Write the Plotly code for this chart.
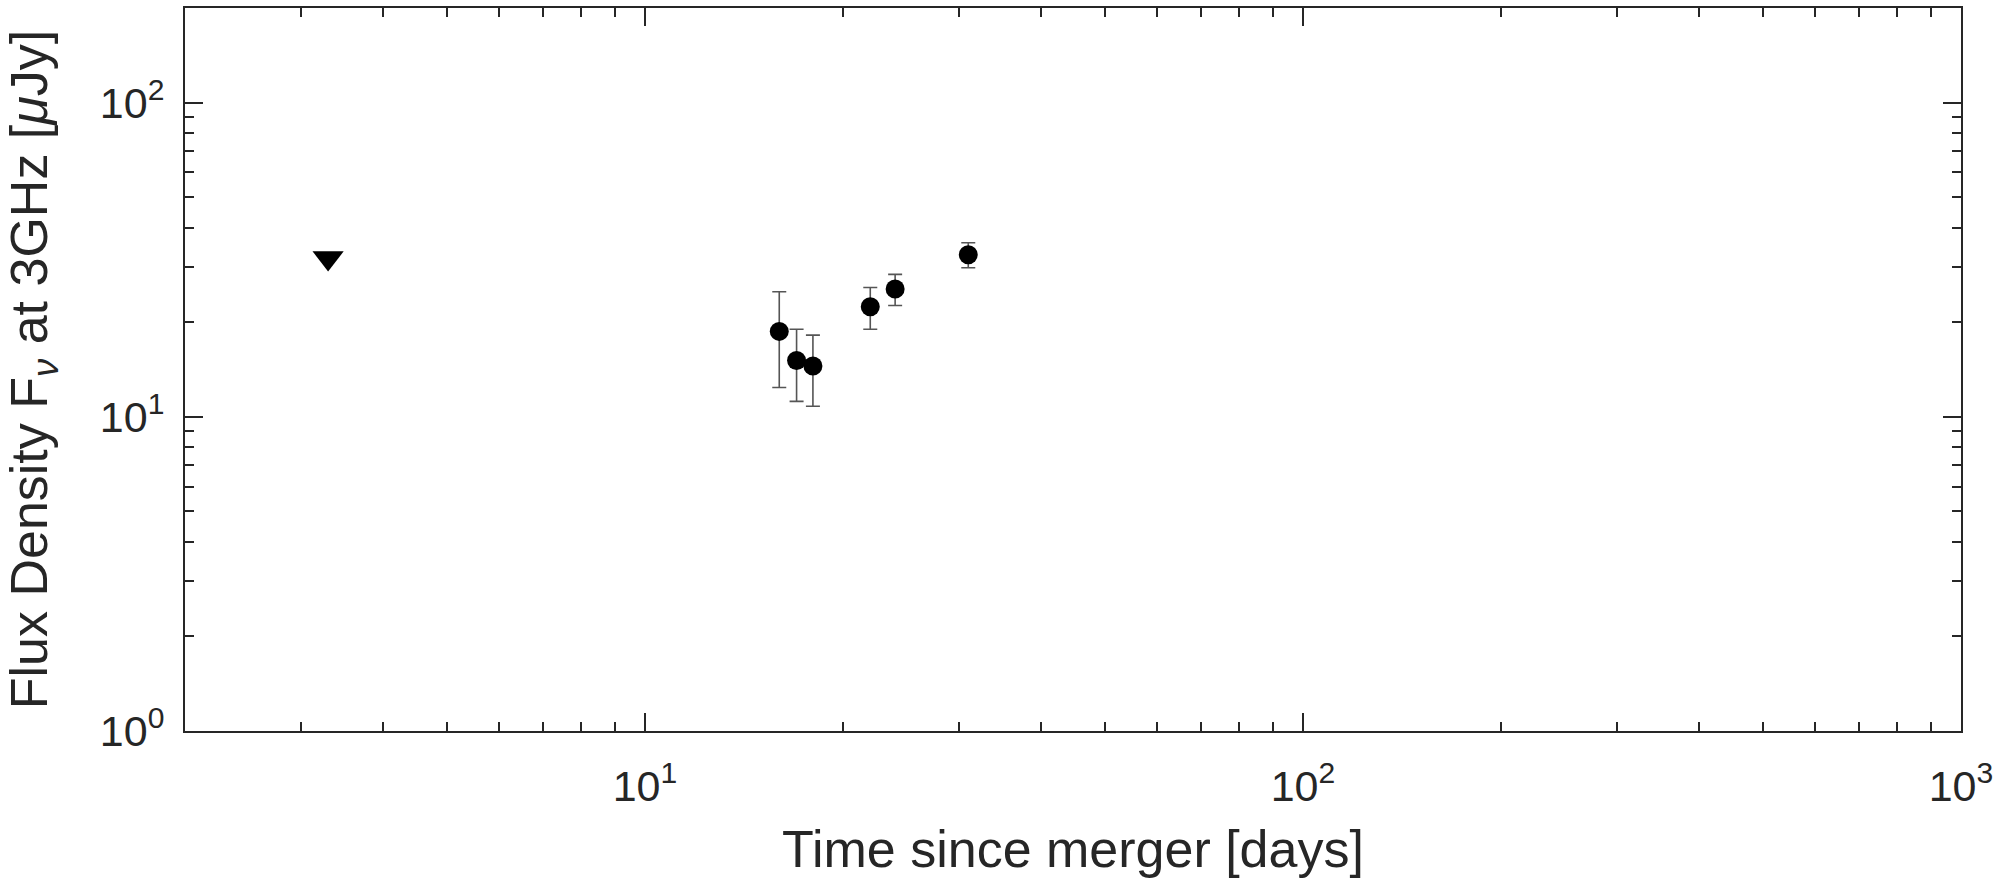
import plotly.graph_objects as go

# Detections (days since merger, flux density in microJy, 1-sigma error)
t_det = [16.0, 17.0, 18.0, 22.0, 24.0, 31.0]
f_det = [18.7, 15.1, 14.5, 22.4, 25.5, 32.8]
e_det = [6.3, 3.9, 3.7, 3.4, 2.9, 3.0]

# Upper limit
t_ul = [3.3]
f_ul = [32.0]

x_tickvals = [10, 100, 1000]
x_ticktext = ["10<sup>1</sup>", "10<sup>2</sup>", "10<sup>3</sup>"]
y_tickvals = [1, 10, 100]
y_ticktext = ["10<sup>0</sup>", "10<sup>1</sup>", "10<sup>2</sup>"]
x_minor = [2, 3, 4, 5, 6, 7, 8, 9, 20, 30, 40, 50, 60, 70, 80, 90,
           200, 300, 400, 500, 600, 700, 800, 900]
y_minor = [2, 3, 4, 5, 6, 7, 8, 9, 20, 30, 40, 50, 60, 70, 80, 90, 200]

AX = "#262626"
FONT = "Liberation Sans, Arial, Helvetica, sans-serif"

fig = go.Figure()
fig.add_trace(go.Scatter(
    x=t_det, y=f_det, mode="markers",
    marker=dict(symbol="circle", size=19, color="black"),
    error_y=dict(type="data", array=e_det, visible=True,
                 color="#555555", thickness=1.6, width=7),
    showlegend=False))
fig.add_trace(go.Scatter(
    x=t_ul, y=f_ul, mode="markers",
    marker=dict(symbol="triangle-down", size=27, color="black"),
    showlegend=False))

common = dict(
    type="log", showgrid=False, zeroline=False,
    showline=True, linecolor=AX, linewidth=2, mirror="allticks",
    ticks="inside", ticklen=18, tickwidth=2, tickcolor=AX,
    tickfont=dict(family=FONT, size=43, color=AX),
)

fig.update_xaxes(
    **common,
    range=[0.30103, 3],
    tickvals=x_tickvals, ticktext=x_ticktext,
    ticklabelstandoff=16,
    minor=dict(tickvals=x_minor, ticks="inside", ticklen=9,
               tickwidth=2, tickcolor=AX),
    title=dict(text="Time since merger [days]",
               font=dict(family=FONT, size=52, color=AX), standoff=22),
)
fig.update_yaxes(
    **common,
    range=[0, 2.30103],
    tickvals=y_tickvals, ticktext=y_ticktext,
    ticklabelstandoff=10,
    minor=dict(tickvals=y_minor, ticks="inside", ticklen=9,
               tickwidth=2, tickcolor=AX),
    title=dict(text="Flux Density F<sub><i>ν</i></sub> at 3GHz [<i>μ</i>Jy]",
               font=dict(family=FONT, size=52, color=AX), standoff=56),
)

fig.update_layout(
    width=2010, height=885,
    margin=dict(l=185, r=49, t=6, b=154),
    plot_bgcolor="white", paper_bgcolor="white",
    font=dict(family=FONT, color=AX),
)

fig.write_html("out.html")
